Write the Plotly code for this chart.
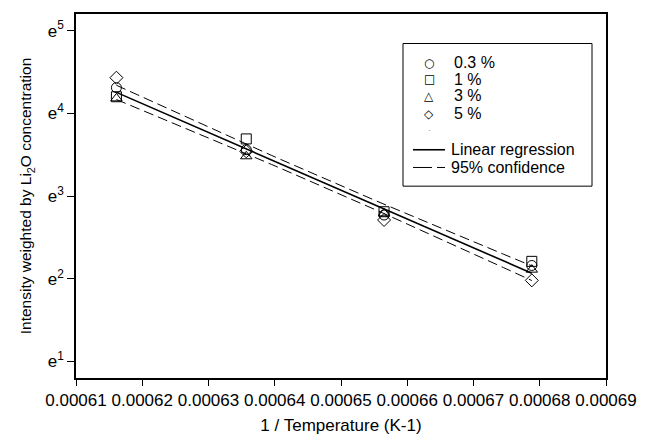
import numpy as np
import plotly.graph_objects as go

# 1 / Temperature (K^-1)
inv_temp = [0.0006161, 0.0006357, 0.0006565, 0.0006788]
# natural-log of intensity (plotted on an e^n axis)
ln_03 = [4.31, 3.56, 2.77, 2.16]
ln_1 = [4.20, 3.69, 2.81, 2.21]
ln_3 = [4.18, 3.48, 2.79, 2.11]
ln_5 = [4.43, 3.54, 2.71, 1.98]

series_names = ["0.3 %", "1 %", "3 %", "5 %"]
series_vals = [ln_03, ln_1, ln_3, ln_5]
symbols = ["circle-open", "square-open", "triangle-up-open", "diamond-open"]
legend_glyphs = ["○", "□", "△", "◇"]

x_ticks = [0.00061, 0.00062, 0.00063, 0.00064, 0.00065, 0.00066, 0.00067, 0.00068, 0.00069]
x_ticktext = ["0.00061", "0.00062", "0.00063", "0.00064", "0.00065", "0.00066", "0.00067", "0.00068", "0.00069"]
y_ticks = [1, 2, 3, 4, 5]
y_ticktext = ["e<sup>1</sup>", "e<sup>2</sup>", "e<sup>3</sup>", "e<sup>4</sup>", "e<sup>5</sup>"]

# regression over all points
X = np.array(inv_temp * 4)
Y = np.concatenate([np.array(v) for v in series_vals])
n = len(X)
b, a = np.polyfit(X, Y, 1)
res = Y - (a + b * X)
s = np.sqrt(np.sum(res ** 2) / (n - 2))
xbar = X.mean()
sxx = np.sum((X - xbar) ** 2)
t = 2.145
xs = np.linspace(min(inv_temp), max(inv_temp), 60)
yfit = a + b * xs
half = t * s * np.sqrt(1.0 / n + (xs - xbar) ** 2 / sxx)

FONT = "Liberation Sans, Arial, sans-serif"
W, H = 651, 444
ML, MR, MT, MB = 76, 45, 12, 62
PW, PH = W - ML - MR, H - MT - MB
DASH = "10px,5px"


def px(xp):
    return (xp - ML) / PW


def py(yp):
    return (H - MB - yp) / PH


fig = go.Figure()

fig.add_trace(go.Scatter(x=xs, y=yfit + half, mode="lines", line=dict(color="black", width=1, dash=DASH),
                         showlegend=False, name="95% confidence"))
fig.add_trace(go.Scatter(x=xs, y=yfit - half, mode="lines", line=dict(color="black", width=1, dash=DASH),
                         showlegend=False, name="95% confidence"))
fig.add_trace(go.Scatter(x=xs, y=yfit, mode="lines", line=dict(color="black", width=1.6),
                         showlegend=False, name="Linear regression"))

for name, vals, sym in zip(series_names, series_vals, symbols):
    fig.add_trace(go.Scatter(x=inv_temp, y=vals, mode="markers", name=name, showlegend=False,
                             marker=dict(symbol=sym, size=10, color="black", line=dict(width=1, color="black"))))

# ---- hand-built legend box (matches the compact original) ----
shapes = [dict(type="rect", xref="paper", yref="paper", x0=px(403), x1=px(592), y0=py(42), y1=py(187),
               line=dict(color="black", width=1), fillcolor="white", layer="above")]
annotations = []
rows = [61.7, 78.3, 95.0, 113.3]
for glyph, label, ry in zip(legend_glyphs, series_names, rows):
    annotations.append(dict(xref="paper", yref="paper", x=px(429), y=py(ry), text=glyph, showarrow=False,
                            xanchor="center", yanchor="middle", font=dict(family="DejaVu Sans", size=12, color="black")))
    annotations.append(dict(xref="paper", yref="paper", x=px(452), y=py(ry), text=label, showarrow=False,
                            xanchor="left", yanchor="middle", font=dict(family=FONT, size=16, color="black")))
annotations.append(dict(xref="paper", yref="paper", x=px(429), y=py(130), text="·", showarrow=False,
                        xanchor="center", yanchor="middle", font=dict(family=FONT, size=9, color="#888888")))
shapes.append(dict(type="line", xref="paper", yref="paper", x0=px(413), x1=px(445), y0=py(150), y1=py(150),
                   line=dict(color="black", width=1.6), layer="above"))
shapes.append(dict(type="line", xref="paper", yref="paper", x0=px(413), x1=px(445), y0=py(168), y1=py(168),
                   line=dict(color="black", width=1, dash="19px,5px"), layer="above"))
annotations.append(dict(xref="paper", yref="paper", x=px(449), y=py(150), text="Linear regression",
                        showarrow=False, xanchor="left", yanchor="middle", font=dict(family=FONT, size=16, color="black")))
annotations.append(dict(xref="paper", yref="paper", x=px(449), y=py(168), text="95% confidence",
                        showarrow=False, xanchor="left", yanchor="middle", font=dict(family=FONT, size=16, color="black")))

fig.update_layout(
    width=W, height=H,
    margin=dict(l=ML, r=MR, t=MT, b=MB),
    paper_bgcolor="white", plot_bgcolor="white",
    font=dict(family=FONT, size=17, color="black"),
    showlegend=False,
    shapes=shapes,
    annotations=annotations,
    xaxis=dict(range=[0.00061, 0.00069], tickvals=x_ticks, ticktext=x_ticktext, ticks="outside", ticklen=6,
               tickcolor="black", showline=True, linecolor="black", linewidth=1.5, mirror=True,
               showgrid=False, zeroline=False, tickfont=dict(size=17),
               title=dict(text="1 / Temperature (K-1)", font=dict(size=17), standoff=10)),
    yaxis=dict(range=[0.8, 5.2], tickvals=y_ticks, ticktext=y_ticktext, ticks="outside", ticklen=7,
               tickcolor="black", showline=True, linecolor="black", linewidth=1.5, mirror=True,
               showgrid=False, zeroline=False, tickfont=dict(size=17),
               title=dict(text="Intensity weighted by Li<sub>2</sub>O concentration", font=dict(size=15.5),
                          standoff=12)),
)

fig.write_html("out.html")
